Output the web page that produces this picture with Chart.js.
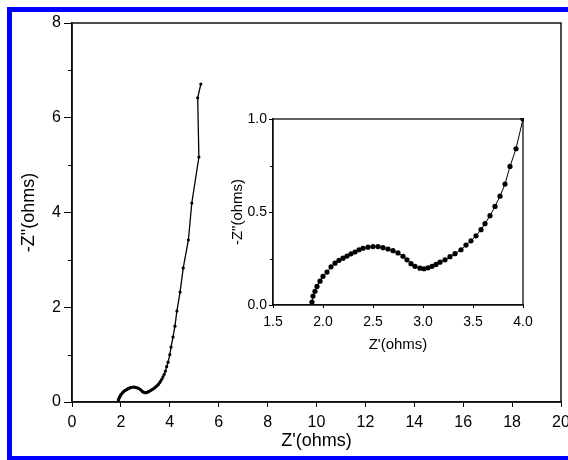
<!DOCTYPE html>
<html>
<head>
<meta charset="utf-8">
<script src="https://cdn.jsdelivr.net/npm/chart.js@4.4.0/dist/chart.umd.min.js"></script>
<style>
html, body { margin: 0; padding: 0; background: #fff; overflow: hidden; }
#wrap { position: relative; width: 568px; height: 460px; overflow: hidden; }
#frame { position: absolute; left: 7px; top: 7px; width: 620px; height: 444px;
         border: 5px solid #0000ff; border-right: none; }
#main { position: absolute; left: 0; top: 0; }
#inset { position: absolute; left: 200px; top: 90px; }
</style>
</head>
<body>
<div id="wrap">
  <div id="frame"></div>
  <canvas id="main" width="600" height="460" style="width:600px;height:460px"></canvas>
  <canvas id="inset" width="340" height="270" style="width:340px;height:270px"></canvas>
</div>
<script>
// impedance data (Z' and -Z'')
var zReal = [1.89, 1.90, 1.92, 1.94, 1.97, 2.00, 2.04, 2.08, 2.12, 2.16, 2.20, 2.24, 2.28, 2.32,
             2.36, 2.40, 2.45, 2.50, 2.55, 2.60, 2.65, 2.70, 2.75, 2.80, 2.84, 2.88, 2.92, 2.97,
             3.01, 3.05, 3.09, 3.13, 3.17, 3.22, 3.27, 3.32, 3.38, 3.43, 3.48, 3.53, 3.58, 3.62,
             3.67, 3.72, 3.77, 3.82, 3.87, 3.93, 4.00, 4.05, 4.13, 4.21, 4.29, 4.42, 4.55, 4.76,
             4.90, 5.19, 5.14, 5.27];
var zImag = [0.016, 0.048, 0.074, 0.100, 0.128, 0.154, 0.177, 0.205, 0.225, 0.240, 0.252, 0.263, 0.275, 0.285,
             0.297, 0.305, 0.311, 0.314, 0.314, 0.308, 0.301, 0.292, 0.280, 0.262, 0.243, 0.222, 0.208, 0.198,
             0.195, 0.200, 0.208, 0.218, 0.230, 0.243, 0.260, 0.276, 0.297, 0.322, 0.345, 0.372, 0.405, 0.437,
             0.480, 0.530, 0.585, 0.650, 0.745, 0.840, 1.000, 1.16, 1.37, 1.60, 1.92, 2.32, 2.83, 3.42,
             4.20, 5.17, 6.42, 6.71];

// tick labels
var mainXTicks = [0, 2, 4, 6, 8, 10, 12, 14, 16, 18, 20];
var mainYTicks = [0, 2, 4, 6, 8];
var mainYMinor = [1, 3, 5, 7];
var insetXTicks = [1.5, 2.0, 2.5, 3.0, 3.5, 4.0];
var insetYTicks = [0.0, 0.5, 1.0];
var insetYMinor = [0.25, 0.75];

var font = "'Liberation Sans', Arial, sans-serif";

var points = [];
for (var i = 0; i < zReal.length; i++) {
    points.push({x: zReal[i], y: zImag[i]});
}

// draws short minor ticks and the closed box round the plot
var boxPlugin = {
    id: 'boxTicks',
    afterDraw: function(chart, args, opts) {
        var ctx = chart.ctx;
        ctx.save();
        ctx.strokeStyle = '#000';
        ctx.lineWidth = 1;
        (opts.minor || []).forEach(function(m) {
            var s = chart.scales[m.axis];
            m.values.forEach(function(v) {
                var p = Math.round(s.getPixelForValue(v)) + 0.5;
                ctx.beginPath();
                if (s.isHorizontal()) { ctx.moveTo(p, s.top); ctx.lineTo(p, s.top + m.len); }
                else { ctx.moveTo(s.right, p); ctx.lineTo(s.right - m.len, p); }
                ctx.stroke();
            });
        });
        var a = chart.chartArea;
        ctx.lineWidth = opts.box;
        ctx.strokeStyle = '#111';
        ctx.strokeRect(a.left, a.top, a.right - a.left, a.bottom - a.top);
        ctx.restore();
    }
};

function setTicks(list) {
    return function(scale) {
        scale.ticks = list.map(function(v) { return {value: v}; });
    };
}

// main chart
new Chart(document.getElementById('main').getContext('2d'), {
    type: 'scatter',
    data: {
        datasets: [{
            data: points,
            showLine: true,
            borderColor: '#000',
            backgroundColor: '#000',
            borderWidth: 1.3,
            pointRadius: 1.6,
            pointBorderWidth: 0,
            clip: 4
        }]
    },
    options: {
        responsive: false,
        animation: false,
        layout: {padding: {left: 0, right: 39, top: 23, bottom: 0}},
        plugins: {
            legend: {display: false},
            tooltip: {enabled: false},
            boxTicks: {box: 1.5, minor: [{axis: 'y', values: mainYMinor, len: 4}]}
        },
        scales: {
            x: {
                type: 'linear', min: 0, max: 20,
                afterBuildTicks: setTicks(mainXTicks),
                afterFit: function(s) { s.height = 58; },
                border: {color: '#000', width: 1.5},
                grid: {drawOnChartArea: false, tickLength: 5, color: '#000'},
                ticks: {color: '#000', font: {family: font, size: 16}, padding: 6, maxRotation: 0, autoSkip: false},
                title: {display: true, text: "Z'(ohms)", color: '#000',
                        font: {family: font, size: 18}, padding: {top: 0, bottom: 8}}
            },
            y: {
                type: 'linear', min: 0, max: 8,
                afterBuildTicks: setTicks(mainYTicks),
                afterFit: function(s) { s.width = 72; },
                border: {color: '#000', width: 1.5},
                grid: {drawOnChartArea: false, tickLength: 8, color: '#000'},
                ticks: {color: '#000', font: {family: font, size: 16}, padding: 3},
                title: {display: true, text: '-Z"(ohms)', color: '#000',
                        font: {family: font, size: 18}, padding: {top: 18, bottom: 0}}
            }
        }
    },
    plugins: [boxPlugin]
});

// inset, zoom on the semicircle
new Chart(document.getElementById('inset').getContext('2d'), {
    type: 'scatter',
    data: {
        datasets: [{
            data: points,
            showLine: true,
            borderColor: '#000',
            backgroundColor: '#000',
            borderWidth: 1,
            pointRadius: 2.6,
            pointBorderWidth: 0,
            clip: 1
        }]
    },
    options: {
        responsive: false,
        animation: false,
        layout: {padding: {left: 0, right: 17, top: 29, bottom: 0}},
        plugins: {
            legend: {display: false},
            tooltip: {enabled: false},
            boxTicks: {box: 1.3, minor: [{axis: 'y', values: insetYMinor, len: 3}]}
        },
        scales: {
            x: {
                type: 'linear', min: 1.5, max: 4.0,
                afterBuildTicks: setTicks(insetXTicks),
                afterFit: function(s) { s.height = 55; },
                border: {color: '#000', width: 1.3},
                grid: {drawOnChartArea: false, tickLength: 3, color: '#000'},
                ticks: {color: '#000', font: {family: font, size: 14}, padding: 6, maxRotation: 0, autoSkip: false,
                        callback: function(v) { return Number(v).toFixed(1); }},
                title: {display: true, text: "Z'(ohms)", color: '#000',
                        font: {family: font, size: 15}, padding: {top: 0, bottom: 6}}
            },
            y: {
                type: 'linear', min: 0, max: 1.0,
                afterBuildTicks: setTicks(insetYTicks),
                afterFit: function(s) { s.width = 73; },
                border: {color: '#000', width: 1.3},
                grid: {drawOnChartArea: false, tickLength: 4, color: '#000'},
                ticks: {color: '#000', font: {family: font, size: 14}, padding: 2,
                        callback: function(v) { return Number(v).toFixed(1); }},
                title: {display: true, text: '-Z"(ohms)', color: '#000',
                        font: {family: font, size: 15}, padding: {top: 29, bottom: 0}}
            }
        }
    },
    plugins: [boxPlugin]
});
</script>
</body>
</html>
